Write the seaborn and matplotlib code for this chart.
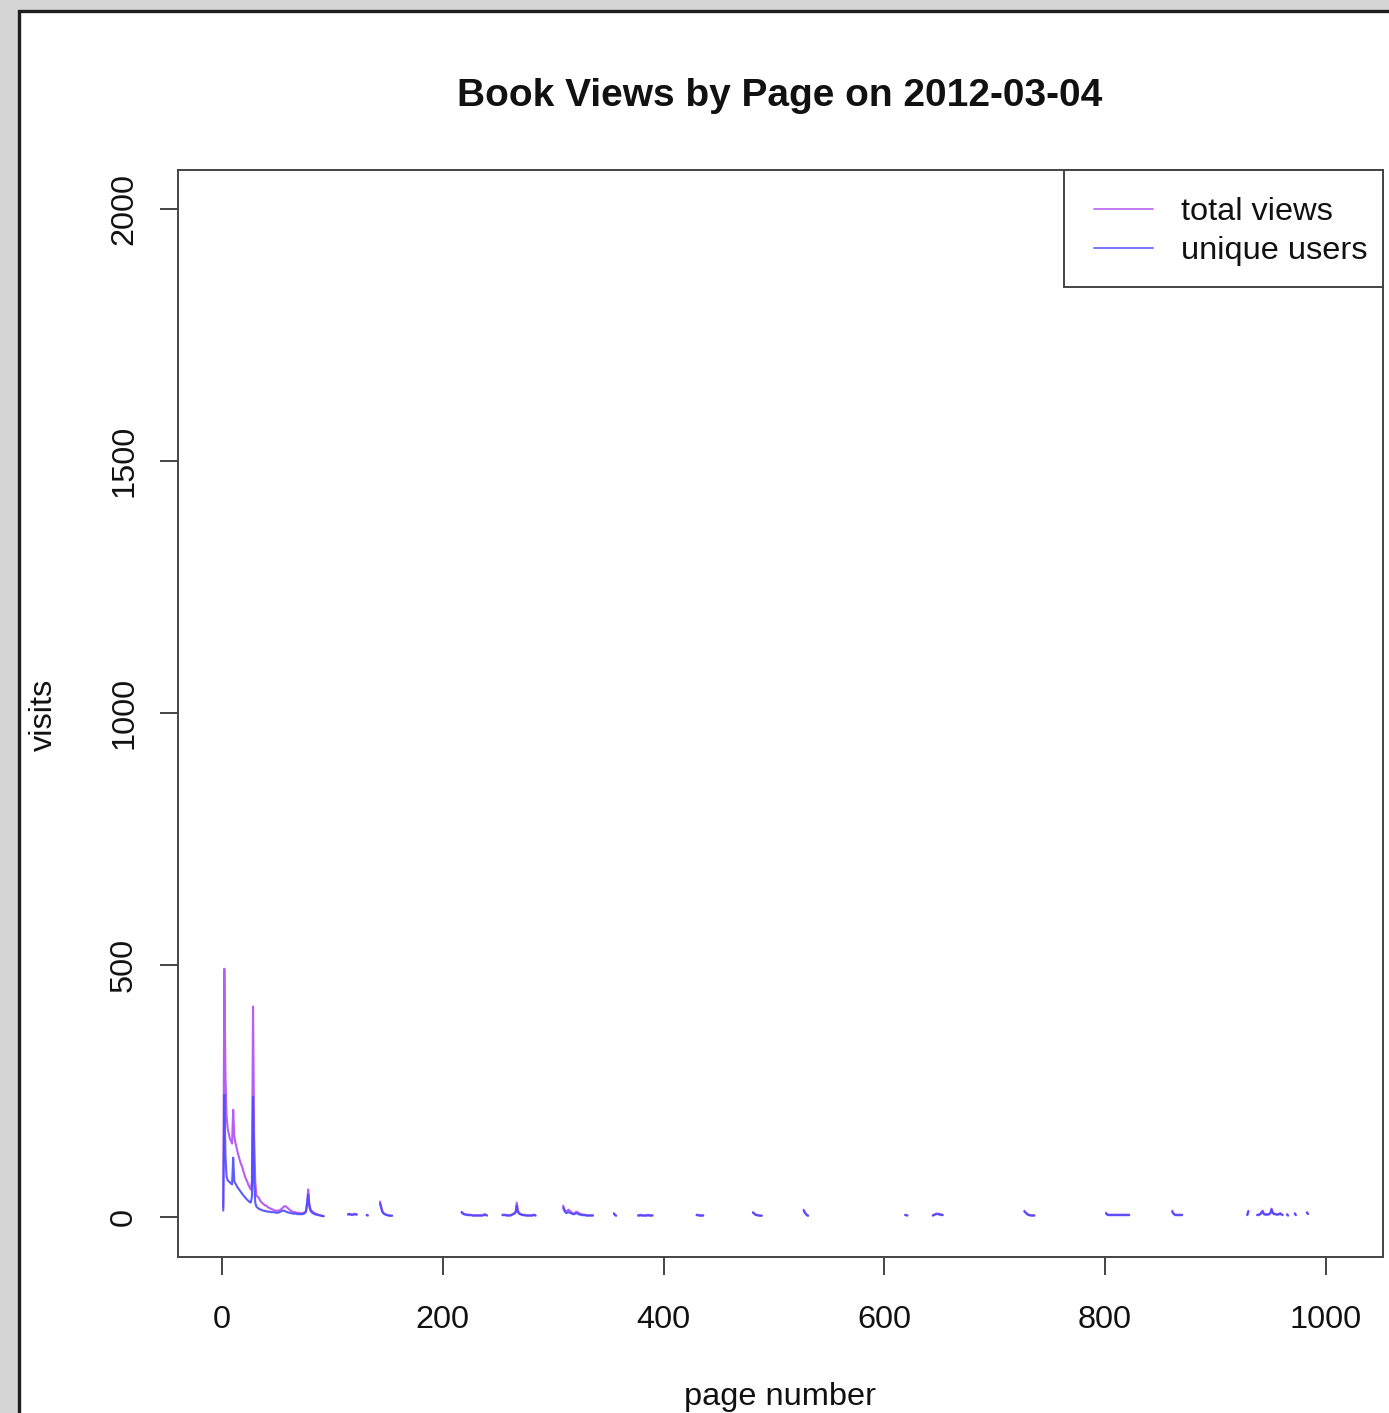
import numpy as np
import pandas as pd
import matplotlib
matplotlib.use("Agg")
import matplotlib.pyplot as plt
from matplotlib.lines import Line2D
from matplotlib.patches import Rectangle
import seaborn as sns

# ---- data: pages with recorded visits, grouped into contiguous runs ----
seg_start = [1, 114, 131, 143, 217, 254, 309, 355, 377, 430, 481, 527,
             619, 644, 727, 801, 861, 929, 938, 965, 972, 983]

total_views = [
    # pages 1-92
    [20, 492, 280, 200, 175, 165, 155, 150, 145, 212, 160, 147, 138, 128, 120,
     112, 105, 100, 92, 85, 78, 73, 68, 62, 58, 54, 70, 417, 160, 70,
     42, 40, 38, 34, 30, 28, 26, 24, 22, 22, 20, 18, 17, 16, 15, 14, 13, 12,
     12, 12, 12, 13, 14, 16, 18, 20, 21, 20, 18, 16,
     14, 12, 11, 10, 9, 9, 8, 8, 8, 7, 7, 7, 7, 8, 9, 12, 30, 54, 26, 16,
     12, 10, 8, 7, 6, 5, 4, 3, 3, 2, 2, 1],
    [5, 6, 5, 5, 4, 5, 6, 5, 5],
    [4, 3],
    [30, 22, 12, 8, 6, 5, 4, 3, 3, 2, 2, 2],
    [10, 8, 6, 5, 5, 4, 4, 4, 4, 3, 3, 3, 3, 3, 3, 3, 3, 3, 3, 3, 4, 5, 4, 3],
    [4, 4, 4, 4, 3, 3, 3, 3, 4, 5, 6, 8, 10, 28, 12, 8, 6, 5, 4, 4, 4, 3, 3,
     3, 3, 3, 3, 3, 4, 4, 3],
    [22, 16, 12, 10, 12, 14, 12, 10, 8, 6, 6, 8, 10, 9, 8, 6, 5, 5, 4, 4, 4,
     3, 3, 3, 3, 3, 3, 3],
    [7, 4, 2],
    [3, 3, 4, 3, 3, 3, 3, 3, 3, 4, 3, 3, 3, 3],
    [4, 4, 3, 3, 3, 3, 3],
    [9, 7, 5, 4, 3, 3, 3, 2, 2],
    [14, 9, 6, 3, 2],
    [4, 3, 3],
    [3, 4, 5, 6, 6, 6, 5, 5, 4, 4],
    [12, 9, 7, 5, 4, 3, 3, 3, 3, 3],
    [8, 5, 4, 4, 4, 4, 4, 4, 4, 4, 4, 4, 4, 4, 4, 4, 4, 4, 4, 4, 4, 4],
    [12, 7, 5, 4, 4, 4, 4, 4, 4, 4],
    [4, 12],
    [4, 4, 5, 6, 10, 12, 6, 5, 5, 5, 5, 6, 8, 16, 9, 6, 6, 5, 5, 5, 6, 7, 5, 4],
    [5, 3],
    [7, 4],
    [9, 6],
]

unique_users = [
    # pages 1-92
    [12, 242, 120, 80, 72, 70, 68, 66, 64, 117, 70, 66, 62, 58, 55, 52, 49,
     46, 43, 40, 38, 35, 33, 31, 29, 28, 40, 238, 70, 28,
     20, 18, 16, 15, 14, 13, 12, 12, 11, 11, 10, 10, 10, 9, 9, 9, 9, 8, 8, 8,
     8, 9, 10, 11, 12, 12, 11, 10, 9, 8,
     8, 7, 7, 6, 6, 6, 6, 5, 5, 5, 5, 5, 5, 6, 7, 10, 25, 44, 20, 12,
     9, 7, 6, 5, 4, 4, 3, 3, 2, 2, 1, 1],
    [4, 5, 4, 4, 3, 4, 5, 4, 4],
    [3, 2],
    [26, 18, 10, 7, 5, 4, 3, 3, 2, 2, 2, 2],
    [8, 6, 5, 4, 4, 3, 3, 3, 3, 3, 2, 2, 2, 2, 2, 2, 2, 2, 2, 2, 3, 4, 3, 2],
    [3, 3, 3, 3, 2, 2, 2, 2, 3, 4, 5, 6, 8, 22, 10, 6, 5, 4, 3, 3, 3, 2, 2,
     2, 2, 2, 2, 2, 3, 3, 2],
    [18, 12, 9, 7, 8, 9, 8, 7, 6, 5, 5, 6, 7, 6, 5, 4, 4, 3, 3, 3, 3, 2, 2,
     2, 2, 2, 2, 2],
    [6, 3, 2],
    [2, 2, 3, 2, 2, 2, 2, 2, 2, 3, 2, 2, 2, 2],
    [3, 3, 2, 2, 2, 2, 2],
    [8, 6, 4, 3, 3, 2, 2, 2, 2],
    [12, 8, 5, 3, 2],
    [3, 3, 2],
    [2, 3, 4, 5, 5, 5, 4, 4, 3, 3],
    [10, 8, 6, 4, 3, 3, 2, 2, 2, 2],
    [6, 4, 3, 3, 3, 3, 3, 3, 3, 3, 3, 3, 3, 3, 3, 3, 3, 3, 3, 3, 3, 3],
    [10, 6, 4, 3, 3, 3, 3, 3, 3, 3],
    [3, 10],
    [3, 3, 4, 5, 8, 10, 5, 4, 4, 4, 4, 5, 7, 14, 8, 5, 5, 4, 4, 4, 5, 6, 4, 3],
    [4, 2],
    [6, 3],
    [8, 5],
]

series_names = ["total views", "unique users"]
y_ticks = [0, 500, 1000, 1500, 2000]
x_ticks = [0, 200, 400, 600, 800, 1000]

# ---- long table: one row per page and series, runs kept apart via 'run' ----
rows = []
for run, start in enumerate(seg_start):
    for name, segs in zip(series_names, [total_views, unique_users]):
        for k, v in enumerate(segs[run]):
            rows.append({"page": start + k, "visits": v, "series": name,
                         "run": run})
df = pd.DataFrame(rows)

palette = {"total views": "#b04cf5", "unique users": "#4a4aff"}
FS = 23.4
W, H = 1389, 1413


def fx(px):
    return px / W


def fy(py):
    return 1 - py / H


sns.set_style("ticks")
plt.rcParams["font.family"] = ["Liberation Sans", "DejaVu Sans"]

fig = plt.figure(figsize=(W / 100, H / 100), dpi=100)
fig.patch.set_facecolor("#d6d6d6")
# white page with a dark border behind everything
page = Rectangle((fx(19), -0.02), 1.05, 1 - 11 / H + 0.02,
                 transform=fig.transFigure, facecolor="white",
                 edgecolor="#1e1e1e", linewidth=2.4, zorder=-10)
fig.add_artist(page)

ax = fig.add_axes([fx(178), fy(1257), fx(1383) - fx(178), fy(170) - fy(1257)])
ax.set_facecolor("white")
ax.set_zorder(1)

sns.lineplot(data=df, x="page", y="visits", hue="series", units="run",
             estimator=None, sort=False, palette=palette,
             hue_order=series_names, linewidth=1.5, alpha=0.9,
             legend=False, ax=ax)

ax.set_xlim(-40, 1052)
ax.set_ylim(-80, 2077)
ax.set_xticks(x_ticks)
ax.set_yticks(y_ticks)
ax.set_xticklabels([str(t) for t in x_ticks])
ax.set_yticklabels([str(t) for t in y_ticks], rotation=90, va="center")

for sp in ax.spines.values():
    sp.set_visible(True)
    sp.set_color("#444444")
    sp.set_linewidth(1.4)

ax.tick_params(axis="both", length=13, width=1.4, color="#444444",
               labelsize=FS, labelcolor="#111111")
ax.tick_params(axis="x", pad=21.5)
ax.tick_params(axis="y", pad=15)

ax.set_xlabel("")
ax.set_ylabel("")
fig.text(fx(780), fy(1397), "page number", ha="center",
         va="center", fontsize=FS, color="#111111")
fig.text(fx(44), fy(715), "visits", ha="center", va="center",
         rotation=90, fontsize=FS, color="#111111")
fig.text(fx(780), fy(96), "Book Views by Page on 2012-03-04",
         ha="center", va="center", fontsize=28, fontweight="bold",
         color="#111111")

# legend box and entries
legend_box = Rectangle((fx(1064), fy(287)), fx(1383) - fx(1064),
                       fy(170) - fy(287), transform=fig.transFigure,
                       facecolor="white", edgecolor="#444444",
                       linewidth=1.4, clip_on=False, zorder=4)
ax.add_patch(legend_box)

handles = [Line2D([], [], color=palette[n], linewidth=1.4, alpha=0.75)
           for n in series_names]
leg = ax.legend(handles, series_names, loc="upper left",
                bbox_to_anchor=(fx(1094), fy(197)),
                bbox_transform=fig.transFigure, borderaxespad=0,
                frameon=False, fontsize=FS, handlelength=1.8,
                handletextpad=0.87, borderpad=0, labelspacing=0.28)
leg.set_zorder(5)
for t in leg.get_texts():
    t.set_color("#111111")

fig.savefig("out.png", dpi=100, facecolor=fig.get_facecolor())
